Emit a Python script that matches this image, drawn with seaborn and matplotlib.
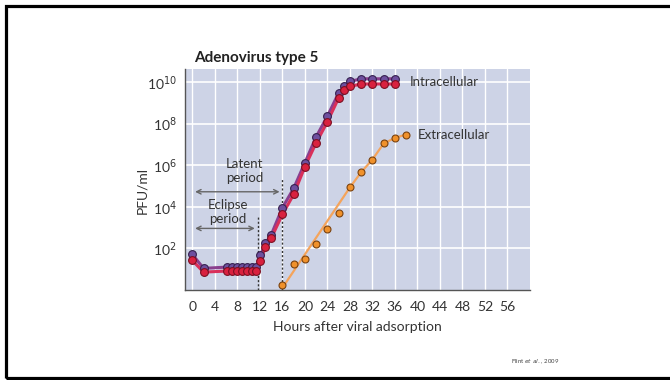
import numpy as np
import pandas as pd
import matplotlib
matplotlib.use("Agg")
import matplotlib.pyplot as plt
from matplotlib.patches import Rectangle
import seaborn as sns

# ---- data (log10 PFU/ml) ----
intra_hours = [0, 2, 6.1, 7.0, 7.9, 8.8, 9.7, 10.6, 11.4, 12.1, 13, 14, 16, 18, 20, 22,
               24, 26, 27, 28, 30, 32, 34, 36]
intra_purple_log = [1.71, 1.04, 1.10, 1.10, 1.10, 1.10, 1.10, 1.10, 1.10, 1.68, 2.24, 2.64,
                    3.95, 4.88, 6.11, 7.36, 8.35, 9.47, 9.78, 10.02, 10.15, 10.15, 10.15, 10.15]
intra_red_log = [1.42, 0.86, 0.91, 0.91, 0.91, 0.91, 0.91, 0.91, 0.91, 1.37, 2.08, 2.48,
                 3.63, 4.59, 5.92, 7.07, 8.08, 9.23, 9.63, 9.78, 9.90, 9.90, 9.90, 9.90]
extra_hours = [16, 18, 20, 22, 24, 26, 28, 30, 32, 34, 36, 38]
extra_log = [0.24, 1.27, 1.49, 2.19, 2.93, 3.71, 4.93, 5.66, 6.27, 7.04, 7.31, 7.47]
extra_line_hours = [16, 28, 30, 32, 34, 36, 38]
extra_line_log = [0.1, 4.93, 5.66, 6.27, 7.04, 7.31, 7.47]

x_ticks = [0, 4, 8, 12, 16, 20, 24, 28, 32, 36, 40, 44, 48, 52, 56]
y_ticks_exp = [2, 4, 6, 8, 10]

sns.set_style("white")
plt.rcParams['font.family'] = ['Lato', 'DejaVu Sans']

fig = plt.figure(figsize=(6.7, 3.8), dpi=100)
ax = fig.add_axes([185/670, 1-290/380, (530-185)/670, (290-69)/380])
ax.set_facecolor('#cdd3e6')

def to_pfu(v):
    return 10.0 ** np.asarray(v, dtype=float)

df_p = pd.DataFrame({'h': intra_hours, 'v': to_pfu(intra_purple_log)})
df_r = pd.DataFrame({'h': intra_hours, 'v': to_pfu(intra_red_log)})
df_e = pd.DataFrame({'h': extra_hours, 'v': to_pfu(extra_log)})
df_el = pd.DataFrame({'h': extra_line_hours, 'v': to_pfu(extra_line_log)})

ax.set_yscale('log')

# grid
for xt in x_ticks:
    ax.axvline(xt, color='white', lw=1.0, zorder=0.5)
for e in y_ticks_exp:
    ax.axhline(10.0**e, color='white', lw=1.2, zorder=0.5)

# lines
sns.lineplot(data=df_el, x='h', y='v', ax=ax, color='#f4a45c', lw=1.6, zorder=2)
sns.lineplot(data=df_p, x='h', y='v', ax=ax, color='#8a3f8e', lw=2.2, zorder=2)
sns.lineplot(data=df_r, x='h', y='v', ax=ax, color='#d9305a', lw=2.2, zorder=2)

# markers
ax.plot(df_p['h'], df_p['v'], 'o', ms=5.6, mfc='#6e4f9e', mec='#35204f', mew=0.8, zorder=3)
ax.plot(df_r['h'], df_r['v'], 'o', ms=5.6, mfc='#d9213f', mec='#7a0f22', mew=0.8, zorder=4)
ax.plot(df_e['h'], df_e['v'], 'o', ms=5.0, mfc='#f0912b', mec='#7a4210', mew=0.8, zorder=4)

ax.set_xlim(-1.3, 60)
ax.set_ylim(1.0, 10**10.62)

ax.set_xticks(x_ticks)
ax.set_xticklabels([str(t) for t in x_ticks])
ax.set_yticks([10.0**e for e in y_ticks_exp])
ax.set_yticklabels([r'10$^{%d}$' % e for e in y_ticks_exp])
ax.yaxis.set_minor_locator(matplotlib.ticker.NullLocator())
ax.tick_params(axis='both', direction='out', length=4, width=1, color='#555555',
               labelsize=10, labelcolor='#333333', pad=2)
ax.tick_params(axis='x', pad=4)

for s in ['top', 'right']:
    ax.spines[s].set_visible(False)
for s in ['left', 'bottom']:
    ax.spines[s].set_color('#555555')
    ax.spines[s].set_linewidth(1.0)

ax.set_xlabel('Hours after viral adsorption', fontsize=10, color='#333333', labelpad=6)
ax.set_ylabel('PFU/ml', fontsize=10, color='#333333')
ax.yaxis.set_label_coords(-0.107, 0.45)
ax.set_title('Adenovirus type 5', fontsize=11, fontweight='bold', color='#222222',
             loc='left', x=0.025, pad=5)

# dashed markers of periods
ax.plot([11.6, 11.6], [1.0, 10**3.6], ls=(0, (1.5, 1.5)), color='#333333', lw=1.0, zorder=2.5)
ax.plot([16, 16], [1.0, 10**5.4], ls=(0, (1.5, 1.5)), color='#333333', lw=1.0, zorder=2.5)

arrow_kw = dict(arrowstyle='<->', color='#666666', lw=1.0, mutation_scale=8)
ax.annotate('', xy=(0, 10**4.72), xytext=(16, 10**4.72), arrowprops=arrow_kw)
ax.annotate('', xy=(0, 10**2.96), xytext=(11.6, 10**2.96), arrowprops=arrow_kw)
ax.text(9.3, 10**5.7, 'Latent\nperiod', ha='center', va='center', fontsize=9.5,
        color='#333333', linespacing=1.2)
ax.text(6.3, 10**3.75, 'Eclipse\nperiod', ha='center', va='center', fontsize=9.5,
        color='#333333', linespacing=1.2)

ax.text(38.6, 10**10.0, 'Intracellular', ha='left', va='center', fontsize=9.5, color='#333333')
ax.text(40.1, 10**7.47, 'Extracellular', ha='left', va='center', fontsize=9.5, color='#333333')

fig.text(535/670, 1-362/380, r'Flint $\it{et\ al.}$, 2009', ha='center', va='center',
         fontsize=4.3, color='#444444')

# slide frame (right edge lies beyond the canvas)
fig.patches.append(Rectangle((6/670, 1-378/380), 1.1, 372/380, transform=fig.transFigure,
                             fill=False, edgecolor='black', lw=2.3))

fig.savefig('out.png', dpi=100)
